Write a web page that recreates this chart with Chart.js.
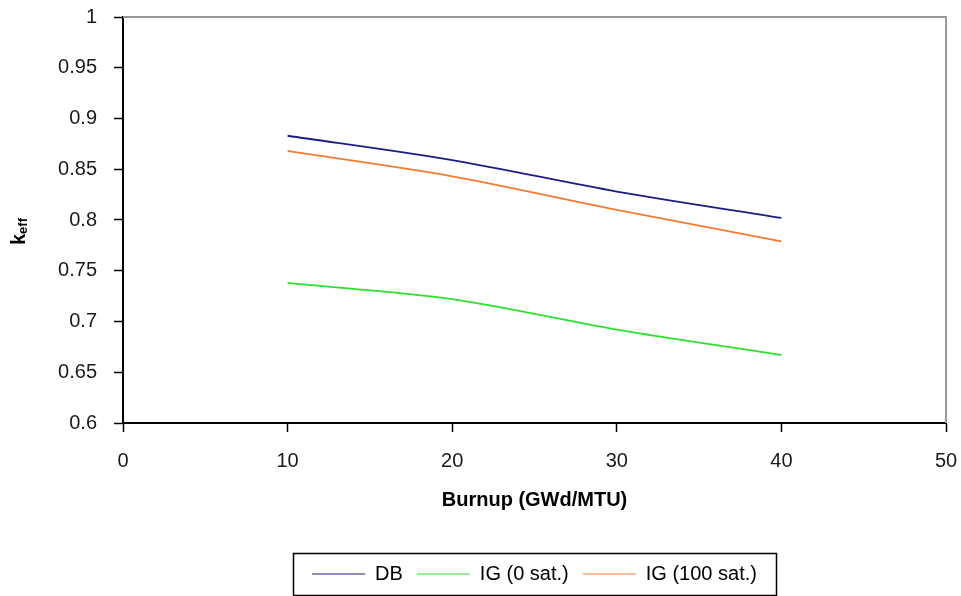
<!DOCTYPE html>
<html>
<head>
<meta charset="utf-8">
<script src="https://cdn.jsdelivr.net/npm/chart.js@4.4.1/dist/chart.umd.min.js"></script>
<style>
  html, body { margin: 0; padding: 0; background: #fff; }
  #wrap { width: 961px; height: 596px; }
</style>
</head>
<body>
<div id="wrap"><canvas id="keffChart" width="961" height="596"></canvas></div>
<script>
// burnup points (GWd/MTU)
const burnup = [10, 20, 30, 40];

// k_eff
const dbValues = [0.883, 0.859, 0.828, 0.802];
const ig0Values = [0.738, 0.722, 0.692, 0.667];
const ig100Values = [0.868, 0.843, 0.810, 0.779];

const seriesNames = ["DB", "IG (0 sat.)", "IG (100 sat.)"];

// axis ticks
const xTicks = [0, 10, 20, 30, 40, 50];
const yTicks = [0.6, 0.65, 0.7, 0.75, 0.8, 0.85, 0.9, 0.95, 1];

const toPoints = (vals) => vals.map((v, i) => ({ x: burnup[i], y: v }));

// y title with subscript, Chart.js titles can't do this
const yTitlePlugin = {
    id: "yTitle",
    afterDraw(chart) {
        const ctx = chart.ctx;
        ctx.save();
        ctx.translate(25, 245);
        ctx.rotate(-Math.PI / 2);
        ctx.fillStyle = "#000";
        ctx.textBaseline = "alphabetic";
        ctx.textAlign = "left";
        ctx.font = "bold 20px 'Liberation Sans', Arial, sans-serif";
        ctx.fillText("k", 0, 0);
        const kw = ctx.measureText("k").width;
        ctx.font = "bold 13px 'Liberation Sans', Arial, sans-serif";
        ctx.fillText("eff", kw, 2);
        ctx.restore();
    }
};

// grey frame on top and right of the plot, plus border round the legend
const framePlugin = {
    id: "frame",
    beforeDatasetsDraw(chart) {
        const { ctx, chartArea: a } = chart;
        ctx.save();
        ctx.strokeStyle = "#999";
        ctx.lineWidth = 2;
        ctx.beginPath();
        ctx.moveTo(a.left, a.top);
        ctx.lineTo(a.right, a.top);
        ctx.lineTo(a.right, a.bottom);
        ctx.stroke();
        ctx.restore();
    },
    afterDraw(chart) {
        const boxes = chart.legend.legendHitBoxes;
        if (!boxes || !boxes.length) return;
        const left = Math.min(...boxes.map(b => b.left));
        const right = Math.max(...boxes.map(b => b.left + b.width));
        const mid = boxes[0].top + boxes[0].height / 2;
        const ctx = chart.ctx;
        ctx.save();
        ctx.strokeStyle = "#000";
        ctx.lineWidth = 1.5;
        ctx.strokeRect(Math.round(left - 19) + 0.5, Math.round(mid - 21) + 0.5, Math.round(right - left + 38), 42);
        ctx.restore();
    }
};

// fixed axis size, and no extra room for half tick labels
const fixSize = (prop, size) => (s) => {
    s[prop] = size;
    s.paddingTop = 0; s.paddingBottom = 0; s.paddingLeft = 0; s.paddingRight = 0;
};

const font = "'Liberation Sans', Arial, sans-serif";

new Chart(document.getElementById("keffChart"), {
    type: "line",
    data: {
        datasets: [
            { label: seriesNames[0], data: toPoints(dbValues), borderColor: "#1c1c84", backgroundColor: "#1c1c84" },
            { label: seriesNames[1], data: toPoints(ig0Values), borderColor: "#2ee02e", backgroundColor: "#2ee02e" },
            { label: seriesNames[2], data: toPoints(ig100Values), borderColor: "#f47a30", backgroundColor: "#f47a30" }
        ]
    },
    options: {
        responsive: false,
        animation: false,
        devicePixelRatio: 1,
        layout: { autoPadding: false, padding: { left: 0, top: 17, right: 15, bottom: 2 } },
        elements: {
            line: { borderWidth: 1.8, tension: 0.3, fill: false },
            point: { radius: 0, hoverRadius: 0 }
        },
        plugins: {
            tooltip: { enabled: false },
            legend: {
                position: "bottom",
                fullSize: false, // centre it under the plot, like the original
                labels: {
                    usePointStyle: true,
                    pointStyle: "line",
                    pointStyleWidth: 53,
                    padding: 14,
                    color: "#000",
                    font: { family: font, size: 20 }
                }
            }
        },
        scales: {
            x: {
                type: "linear",
                min: 0,
                max: 50,
                afterBuildTicks: (s) => { s.ticks = xTicks.map(v => ({ value: v })); },
                afterFit: fixSize("height", 127),
                border: { display: true, color: "#000", width: 2 },
                grid: { drawOnChartArea: false, drawTicks: true, tickLength: 9, tickColor: "#000", tickWidth: 1.5 },
                ticks: { color: "#1a1a1a", padding: 17, maxRotation: 0, font: { family: font, size: 20 } },
                title: {
                    display: true,
                    text: "Burnup (GWd/MTU)",
                    color: "#000",
                    padding: { top: 0, bottom: 38 },
                    font: { family: font, size: 20, weight: "bold" }
                }
            },
            y: {
                min: 0.6,
                max: 1,
                afterBuildTicks: (s) => { s.ticks = yTicks.map(v => ({ value: v })); },
                afterFit: fixSize("width", 123),
                border: { display: true, color: "#000", width: 2 },
                grid: { drawOnChartArea: false, drawTicks: true, tickLength: 9, tickColor: "#000", tickWidth: 1.5 },
                ticks: {
                    color: "#1a1a1a",
                    padding: 17,
                    font: { family: font, size: 20 },
                    callback: (v) => String(Number(v.toFixed(2)))
                }
            }
        }
    },
    plugins: [yTitlePlugin, framePlugin]
});
</script>
</body>
</html>
